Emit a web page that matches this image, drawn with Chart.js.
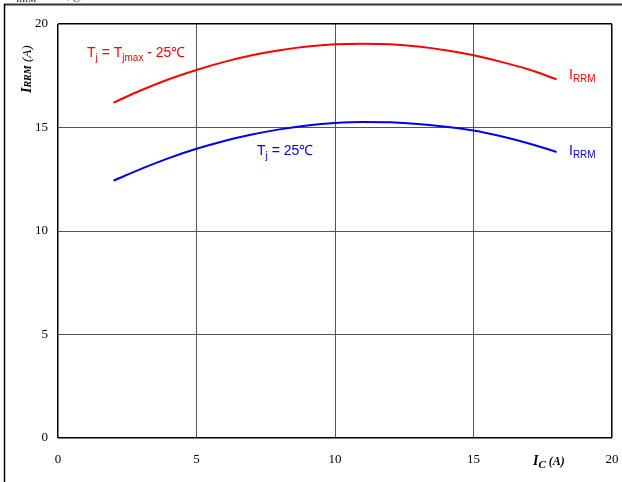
<!DOCTYPE html>
<html>
<head>
<meta charset="utf-8">
<script src="https://cdn.jsdelivr.net/npm/chart.js@4/dist/chart.umd.min.js"></script>
<style>
  html, body { margin: 0; padding: 0; background: #fff; }
  canvas { display: block; }
</style>
</head>
<body>
<canvas id="c" width="622" height="482" style="width:622px;height:482px"></canvas>
<script>
// ---- data ----
const icValues   = [2, 3, 4, 5, 6, 7, 8, 9, 10, 11, 12, 13, 14, 15, 16, 17, 18];
const irrmHot    = [16.2, 16.8, 17.33, 17.78, 18.17, 18.49, 18.73, 18.91, 19.02, 19.05, 19.02, 18.91, 18.73, 18.49, 18.17, 17.8, 17.33];
const irrm25     = [12.43, 13.0, 13.52, 13.97, 14.35, 14.66, 14.91, 15.1, 15.22, 15.27, 15.25, 15.17, 15.04, 14.86, 14.58, 14.23, 13.82];
const xTickValues = [0, 5, 10, 15, 20];
const yTickValues = [0, 5, 10, 15, 20];

const RED = '#ff0000';
const BLUE = '#0000ee';

function pts(xs, ys) { return xs.map((x, i) => ({ x: x, y: ys[i] })); }

function drawRich(ctx, parts, x, y) {
  let cx = x;
  for (const p of parts) {
    ctx.font = p.font;
    ctx.fillText(p.t, cx, y + (p.dy || 0));
    cx += ctx.measureText(p.t).width;
  }
}

const decor = {
  id: 'decor',
  afterDraw(chart) {
    const ctx = chart.ctx;
    ctx.save();
    // outer page frame
    ctx.strokeStyle = '#333';
    ctx.lineWidth = 2;
    ctx.beginPath(); ctx.moveTo(4, 4.5); ctx.lineTo(622, 4.5); ctx.stroke();
    ctx.strokeStyle = '#000';
    ctx.lineWidth = 1.5;
    ctx.beginPath(); ctx.moveTo(4.5, 4); ctx.lineTo(4.5, 482); ctx.stroke();

    // cut-off heading at very top
    ctx.fillStyle = '#000';
    ctx.textBaseline = 'alphabetic';
    ctx.textAlign = 'left';
    drawRich(ctx, [
      { t: 'I', font: '13px "Liberation Serif"' },
      { t: 'RRM', font: '9px "Liberation Serif"', dy: 4 },
      { t: '   = f (I', font: '13px "Liberation Serif"' },
      { t: 'C', font: '9px "Liberation Serif"', dy: 4 },
      { t: ')', font: '13px "Liberation Serif"' }
    ], 12, -2);

    const sans = '"Liberation Sans", Arial, sans-serif';
    // red annotation
    ctx.fillStyle = RED;
    drawRich(ctx, [
      { t: 'T', font: '14px ' + sans },
      { t: 'j', font: '10px ' + sans, dy: 4 },
      { t: ' = T', font: '14px ' + sans },
      { t: 'jmax', font: '10px ' + sans, dy: 4 },
      { t: ' - 25\u2103', font: '14px ' + sans }
    ], 87, 57);
    drawRich(ctx, [
      { t: 'I', font: '14px ' + sans },
      { t: 'RRM', font: '10px ' + sans, dy: 3 }
    ], 569, 79);

    // blue annotation
    ctx.fillStyle = BLUE;
    drawRich(ctx, [
      { t: 'T', font: '14px ' + sans },
      { t: 'j', font: '10px ' + sans, dy: 4 },
      { t: ' = 25\u2103', font: '14px ' + sans }
    ], 257, 155);
    drawRich(ctx, [
      { t: 'I', font: '14px ' + sans },
      { t: 'RRM', font: '10px ' + sans, dy: 3 }
    ], 569, 155);

    // x axis title
    ctx.fillStyle = '#000';
    drawRich(ctx, [
      { t: 'I', font: 'italic bold 14px "Liberation Serif"' },
      { t: 'C', font: 'italic bold 11px "Liberation Serif"', dy: 3 },
      { t: ' (A)', font: 'italic bold 12px "Liberation Serif"' }
    ], 533, 465);

    // y axis title (rotated)
    ctx.translate(31, 93);
    ctx.rotate(-Math.PI / 2);
    drawRich(ctx, [
      { t: 'I', font: 'italic bold 14px "Liberation Serif"' },
      { t: 'RRM', font: 'italic bold 10px "Liberation Serif"' },
      { t: ' (A)', font: 'italic 13px "Liberation Serif"' }
    ], 0, 0);
    ctx.restore();
  }
};

function gridColor(ctx) {
  const v = ctx.tick ? ctx.tick.value : null;
  return (v === 0 || v === 20) ? '#000' : '#555';
}
function gridWidth(ctx) {
  const v = ctx.tick ? ctx.tick.value : null;
  return (v === 0 || v === 20) ? 1.5 : 1;
}

new Chart(document.getElementById('c'), {
  type: 'line',
  data: {
    datasets: [
      { label: 'Tj = Tjmax - 25', data: pts(icValues, irrmHot), borderColor: RED, borderWidth: 2, pointRadius: 0, cubicInterpolationMode: 'monotone', fill: false },
      { label: 'Tj = 25', data: pts(icValues, irrm25), borderColor: BLUE, borderWidth: 2, pointRadius: 0, cubicInterpolationMode: 'monotone', fill: false }
    ]
  },
  options: {
    responsive: false,
    animation: false,
    devicePixelRatio: 1,
    layout: { padding: { left: 0, top: 24, right: 10, bottom: 0 } },
    plugins: { legend: { display: false }, tooltip: { enabled: false }, title: { display: false } },
    scales: {
      x: {
        type: 'linear', min: 0, max: 20,
        afterBuildTicks(s) { s.ticks = xTickValues.map(v => ({ value: v })); },
        afterFit(s) { s.height = 44; s.paddingLeft = 0; s.paddingRight = 0; },
        grid: { color: gridColor, lineWidth: gridWidth, drawTicks: false },
        border: { display: false },
        ticks: { padding: 14, color: '#000', font: { family: '"Liberation Serif"', size: 13 }, maxRotation: 0 }
      },
      y: {
        type: 'linear', min: 0, max: 20,
        afterBuildTicks(s) { s.ticks = yTickValues.map(v => ({ value: v })); },
        afterFit(s) { s.width = 58; s.paddingTop = 0; s.paddingBottom = 0; },
        grid: { color: gridColor, lineWidth: gridWidth, drawTicks: false },
        border: { display: false },
        ticks: { padding: 10, color: '#000', font: { family: '"Liberation Serif"', size: 13 } }
      }
    }
  },
  plugins: [decor]
});
</script>
</body>
</html>
